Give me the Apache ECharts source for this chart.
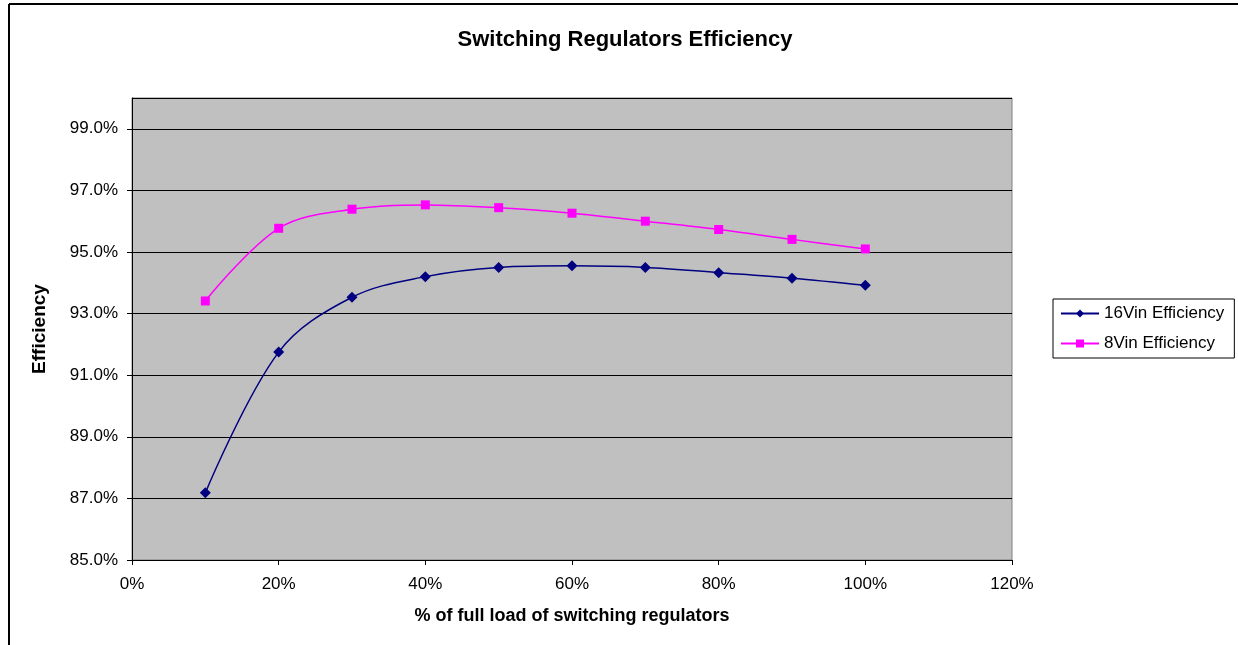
<!DOCTYPE html>
<html>
<head>
<meta charset="utf-8">
<script src="https://cdn.jsdelivr.net/npm/echarts@6/dist/echarts.min.js"></script>
<style>
html,body{margin:0;padding:0;background:#fff;}
#c{width:1238px;height:645px;}
</style>
</head>
<body>
<div id="c"></div>
<script>
var loads = [10, 20, 30, 40, 50, 60, 70, 80, 90, 100];
var eff16 = [87.18, 91.75, 93.53, 94.2, 94.5, 94.55, 94.5, 94.33, 94.15, 93.92];
var eff8 = [93.41, 95.77, 96.39, 96.53, 96.44, 96.26, 96.0, 95.73, 95.41, 95.1];
var seriesNames = ['16Vin Efficiency', '8Vin Efficiency'];

function pairs(vals){ return loads.map(function(x,i){ return [x, vals[i]]; }); }

var chart = echarts.init(document.getElementById('c'));
var font = 'Liberation Sans, Arial, sans-serif';
chart.setOption({
  animation: false,
  backgroundColor: '#ffffff',
  textStyle: { fontFamily: font, color: '#000' },
  title: {
    text: 'Switching Regulators Efficiency',
    left: 620, top: 24, textAlign: 'center',
    textStyle: { fontFamily: font, fontSize: 22, fontWeight: 'bold', color: '#000' }
  },
  grid: {
    left: 132, top: 98, right: 226, bottom: 85,
    show: true, backgroundColor: '#C0C0C0', borderColor: '#808080', borderWidth: 1
  },
  legend: {
    orient: 'vertical',
    left: 1053, top: 299,
    width: 182,
    padding: [6, 10, 6, 7],
    itemGap: 13,
    itemWidth: 38, itemHeight: 10,
    borderColor: '#000', borderWidth: 1,
    backgroundColor: '#fff',
    textStyle: { fontFamily: font, fontSize: 17, color: '#000' },
    data: seriesNames
  },
  xAxis: {
    type: 'value', min: 0, max: 120, interval: 20,
    name: '% of full load of switching regulators',
    nameLocation: 'middle', nameGap: 47,
    nameTextStyle: { fontFamily: font, fontSize: 18, fontWeight: 'bold', color: '#000' },
    axisLine: { show: true, lineStyle: { color: '#000', width: 1 } },
    axisTick: { show: true, length: 5, lineStyle: { color: '#000' } },
    axisLabel: { formatter: '{value}%', fontFamily: font, fontSize: 17, color: '#000', margin: 16 },
    splitLine: { show: false }
  },
  yAxis: {
    type: 'value', min: 85, max: 100, interval: 2,
    name: 'Efficiency',
    nameLocation: 'middle', nameGap: 83, nameRotate: 90,
    nameTextStyle: { fontFamily: font, fontSize: 19, fontWeight: 'bold', color: '#000' },
    axisLine: { show: true, lineStyle: { color: '#000', width: 1 } },
    axisTick: { show: true, length: 5, lineStyle: { color: '#000' } },
    axisLabel: {
      fontFamily: font, fontSize: 17, color: '#000', margin: 14,
      showMaxLabel: false,
      formatter: function(v){ return v >= 100 ? '' : v.toFixed(1) + '%'; }
    },
    splitLine: { show: true, lineStyle: { color: '#000', width: 1 } }
  },
  series: [
    {
      name: seriesNames[0], type: 'line', smooth: 0.35,
      data: pairs(eff16),
      symbol: 'diamond', symbolSize: 11,
      lineStyle: { color: '#000080', width: 1.5 },
      itemStyle: { color: '#000080' }
    },
    {
      name: seriesNames[1], type: 'line', smooth: 0.35,
      data: pairs(eff8),
      symbol: 'rect', symbolSize: 9,
      lineStyle: { color: '#FF00FF', width: 1.5 },
      itemStyle: { color: '#FF00FF' }
    }
  ],
  graphic: [
    { type: 'line', shape: { x1: 9, y1: 4, x2: 1238, y2: 4 }, style: { stroke: '#000', lineWidth: 2 } },
    { type: 'line', shape: { x1: 9, y1: 4, x2: 9, y2: 645 }, style: { stroke: '#000', lineWidth: 2 } }
  ]
});
</script>
</body>
</html>
